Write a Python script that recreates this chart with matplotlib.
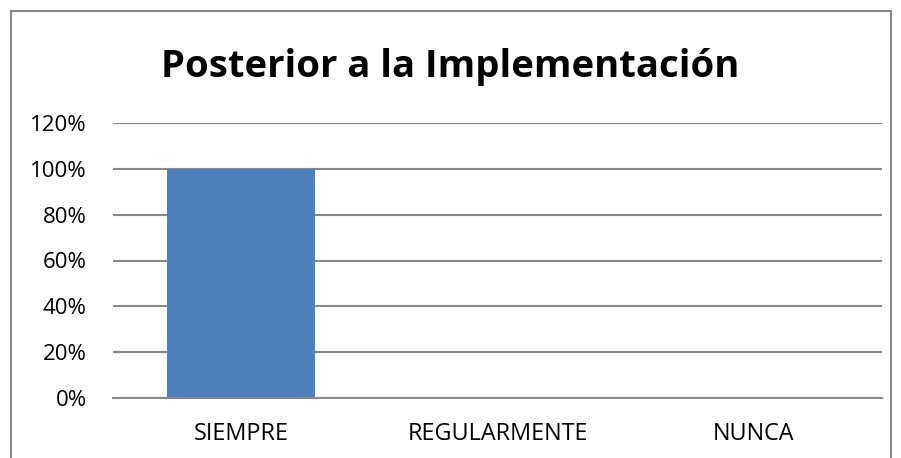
import matplotlib
matplotlib.use("Agg")
import matplotlib.pyplot as plt
from matplotlib.patches import Rectangle
from matplotlib.ticker import PercentFormatter

categories = ["SIEMPRE", "REGULARMENTE", "NUNCA"]
values = [1.0, 0.0, 0.0]
yticks = [0, 0.2, 0.4, 0.6, 0.8, 1.0, 1.2]

W, H = 901, 458
fig = plt.figure(figsize=(W / 100, H / 100), dpi=100)
fig.patch.set_facecolor("white")

# outer chart border
fig.patches.append(Rectangle((11 / W, -0.05), 880 / W, 1.05 - 11 / H,
                             transform=fig.transFigure, fill=False,
                             edgecolor="#888888", linewidth=1.5))

left, right = 113 / W, 882 / W
bottom, top = 1 - 398 / H, 1 - 123 / H
ax = fig.add_axes([left, bottom, right - left, top - bottom])

x = list(range(len(categories)))
ax.bar(x, values, width=0.575, color="#4F81BD", zorder=2)
ax.set_xlim(-0.5, 2.5)
ax.set_ylim(0, 1.2)
ax.set_yticks(yticks)
ax.yaxis.set_major_formatter(PercentFormatter(1.0, decimals=0))
ax.set_xticks(x)
ax.set_xticklabels(categories)

for s in ["top", "right", "left"]:
    ax.spines[s].set_visible(False)
ax.spines["bottom"].set_color("#888888")
ax.spines["bottom"].set_linewidth(1.5)
ax.grid(axis="y", color="#888888", linewidth=1.5, zorder=0)
ax.set_axisbelow(True)
ax.tick_params(axis="both", length=0)
ax.tick_params(axis="y", pad=19)
ax.tick_params(axis="x", pad=17)
for lbl in ax.get_yticklabels():
    lbl.set_fontfamily("Open Sans")
    lbl.set_fontsize(16)
for lbl in ax.get_xticklabels():
    lbl.set_fontfamily("Open Sans")
    lbl.set_fontsize(16.8)

fig.text(450 / W, 1 - 67 / H, "Posterior a la Implementación",
         ha="center", va="center", fontsize=27.5, fontweight="bold",
         family="Open Sans")

fig.savefig("out.png", dpi=100)
